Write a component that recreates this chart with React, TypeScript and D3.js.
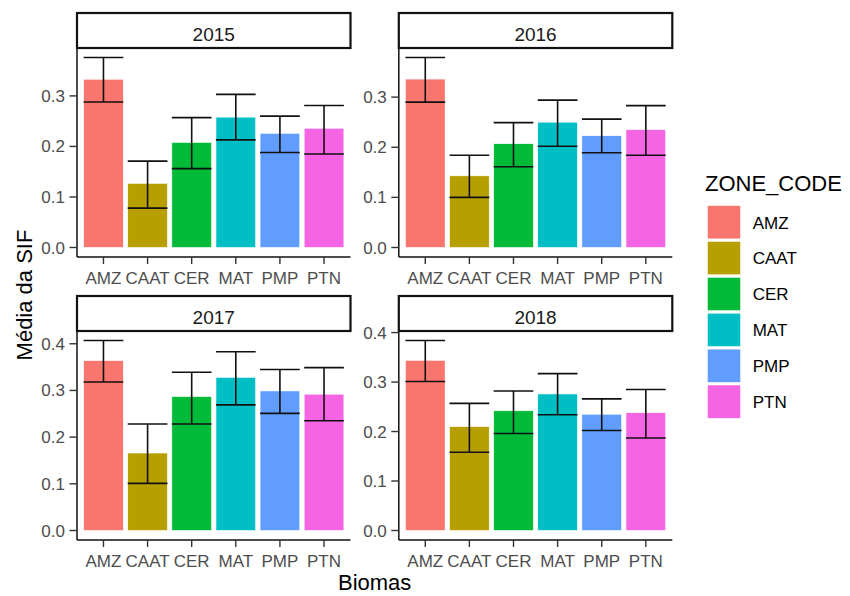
import { useEffect, useRef } from 'react';
import * as d3 from 'd3';

const zones = ['AMZ', 'CAAT', 'CER', 'MAT', 'PMP', 'PTN'];
const zoneColors = ['#F8766D', '#B79F00', '#00BA38', '#00BFC4', '#619CFF', '#F564E3'];
const years = ['2015', '2016', '2017', '2018'];

// mean SIF and error bar ends
const mean2015 = [0.333, 0.127, 0.208, 0.258, 0.226, 0.236];
const low2015 = [0.288, 0.078, 0.156, 0.213, 0.188, 0.185];
const high2015 = [0.376, 0.171, 0.257, 0.303, 0.26, 0.281];

const mean2016 = [0.336, 0.143, 0.207, 0.25, 0.223, 0.235];
const low2016 = [0.29, 0.1, 0.161, 0.202, 0.189, 0.184];
const high2016 = [0.379, 0.184, 0.249, 0.294, 0.256, 0.283];

const mean2017 = [0.364, 0.166, 0.287, 0.328, 0.299, 0.292];
const low2017 = [0.318, 0.101, 0.228, 0.269, 0.251, 0.235];
const high2017 = [0.407, 0.228, 0.339, 0.383, 0.345, 0.349];

const mean2018 = [0.344, 0.21, 0.242, 0.276, 0.235, 0.238];
const low2018 = [0.301, 0.158, 0.196, 0.234, 0.202, 0.187];
const high2018 = [0.384, 0.257, 0.282, 0.317, 0.266, 0.285];

const means = [mean2015, mean2016, mean2017, mean2018];
const lows = [low2015, low2016, low2017, low2018];
const highs = [high2015, high2016, high2017, high2018];

const FONT = '"Liberation Sans", Arial, sans-serif';

export default function App() {
    const svgRef = useRef<SVGSVGElement>(null);
    const width = 850;
    const height = 596;

    useEffect(() => {
        if (!svgRef.current) return;
        const svg = d3.select(svgRef.current);
        svg.selectAll('*').remove();

        const colLeft = [77, 398.8];
        const panelW = 273.5;
        const stripTop = [13, 296];
        const stripH = 35;
        const panelH = 209;

        const color = d3.scaleOrdinal<string, string>().domain(zones).range(zoneColors);

        years.forEach((year, k) => {
            const col = k % 2;
            const row = Math.floor(k / 2);
            const left = colLeft[col];
            const top = stripTop[row] + stripH;
            const bottom = top + panelH;

            const rows = zones.map((z, i) => ({
                zone: z,
                mean: means[k][i],
                low: lows[k][i],
                high: highs[k][i],
            }));

            // discrete scale with ggplot's 0.6 expansion
            const step = panelW / 6.2;
            const x = (i: number) => left + step * (0.6 + i);
            const barW = step * 0.9;

            const yMax = d3.max(rows, d => d.high) as number;
            const pad = yMax * 0.05;
            const y = d3.scaleLinear().domain([-pad, yMax + pad]).range([bottom, top]);

            const g = svg.append('g');

            // bars
            g.selectAll('rect.bar')
                .data(rows)
                .enter()
                .append('rect')
                .attr('x', (d, i) => x(i) - barW / 2)
                .attr('width', barW)
                .attr('y', d => y(d.mean))
                .attr('height', d => y(0) - y(d.mean))
                .attr('fill', d => color(d.zone))
                .attr('stroke', 'white')
                .attr('stroke-width', 0.6);

            // error bars
            const eb = g.selectAll('g.eb').data(rows).enter().append('g');
            eb.append('line')
                .attr('x1', (d, i) => x(i)).attr('x2', (d, i) => x(i))
                .attr('y1', d => y(d.low)).attr('y2', d => y(d.high));
            eb.append('line')
                .attr('x1', (d, i) => x(i) - barW / 2).attr('x2', (d, i) => x(i) + barW / 2)
                .attr('y1', d => y(d.high)).attr('y2', d => y(d.high));
            eb.append('line')
                .attr('x1', (d, i) => x(i) - barW / 2).attr('x2', (d, i) => x(i) + barW / 2)
                .attr('y1', d => y(d.low)).attr('y2', d => y(d.low));
            eb.selectAll('line').attr('stroke', '#111').attr('stroke-width', 1.6);

            // strip
            g.append('rect')
                .attr('x', left)
                .attr('y', stripTop[row])
                .attr('width', panelW)
                .attr('height', stripH)
                .attr('fill', 'white')
                .attr('stroke', '#111')
                .attr('stroke-width', 2.2);
            g.append('text')
                .attr('x', left + panelW / 2)
                .attr('y', stripTop[row] + 27.5)
                .attr('text-anchor', 'middle')
                .attr('font-family', FONT)
                .attr('font-size', 19)
                .attr('fill', '#1a1a1a')
                .text(year);

            // y axis
            const yTicks = y.ticks(5).filter(t => t >= 0);
            g.append('line')
                .attr('x1', left).attr('x2', left)
                .attr('y1', top).attr('y2', bottom)
                .attr('stroke', '#111').attr('stroke-width', 1.5);
            yTicks.forEach(t => {
                g.append('line')
                    .attr('x1', left - 7.5).attr('x2', left)
                    .attr('y1', y(t)).attr('y2', y(t))
                    .attr('stroke', '#333').attr('stroke-width', 1.4);
                g.append('text')
                    .attr('x', left - 12)
                    .attr('y', y(t) + 6)
                    .attr('text-anchor', 'end')
                    .attr('font-family', FONT)
                    .attr('font-size', 17)
                    .attr('fill', '#4D4D4D')
                    .text(d3.format('.1f')(t));
            });

            // x axis
            g.append('line')
                .attr('x1', left).attr('x2', left + panelW)
                .attr('y1', bottom).attr('y2', bottom)
                .attr('stroke', '#111').attr('stroke-width', 1.5);
            zones.forEach((z, i) => {
                g.append('line')
                    .attr('x1', x(i)).attr('x2', x(i))
                    .attr('y1', bottom).attr('y2', bottom + 7)
                    .attr('stroke', '#333').attr('stroke-width', 1.4);
                g.append('text')
                    .attr('x', x(i))
                    .attr('y', bottom + 27)
                    .attr('text-anchor', 'middle')
                    .attr('font-family', FONT)
                    .attr('font-size', 17)
                    .attr('fill', '#4D4D4D')
                    .text(z);
            });
        });

        // axis titles
        svg.append('text')
            .attr('x', (colLeft[0] + colLeft[1] + panelW) / 2)
            .attr('y', 590)
            .attr('text-anchor', 'middle')
            .attr('font-family', FONT)
            .attr('font-size', 22)
            .attr('fill', 'black')
            .text('Biomas');
        svg.append('text')
            .attr('transform', 'translate(32,295) rotate(-90)')
            .attr('text-anchor', 'middle')
            .attr('font-family', FONT)
            .attr('font-size', 22)
            .attr('fill', 'black')
            .text('Média da SIF');

        // legend
        const lg = svg.append('g');
        lg.append('text')
            .attr('x', 705)
            .attr('y', 191)
            .attr('font-family', FONT)
            .attr('font-size', 22)
            .attr('fill', 'black')
            .text('ZONE_CODE');
        zones.forEach((z, i) => {
            const ky = 205.5 + i * 35.9;
            lg.append('rect')
                .attr('x', 707.3)
                .attr('y', ky)
                .attr('width', 33.4)
                .attr('height', 33.4)
                .attr('fill', color(z))
                .attr('stroke', 'white')
                .attr('stroke-width', 0.6);
            lg.append('text')
                .attr('x', 752.7)
                .attr('y', ky + 23)
                .attr('font-family', FONT)
                .attr('font-size', 17)
                .attr('fill', 'black')
                .text(z);
        });
    }, []);

    return (
        <svg
            ref={svgRef}
            width={width}
            height={height}
            viewBox={`0 0 ${width} ${height}`}
            style={{ position: 'absolute', left: 0, top: 0, background: 'white' }}
        />
    );
}
